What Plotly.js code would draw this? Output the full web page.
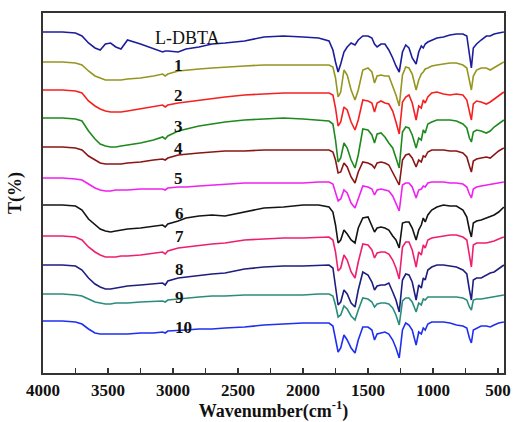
<!DOCTYPE html>
<html>
<head>
<meta charset="utf-8">
<script src="https://cdn.plot.ly/plotly-3.0.1.min.js"></script>
<style>html,body{margin:0;padding:0;background:#fff;}#chart{width:513px;height:422px;}</style>
</head>
<body>
<div id="chart"></div>
<script>
// Wavenumber grid (cm^-1)
const wavenumber = [4000,3850,3750,3700,3650,3600,3560,3520,3480,3440,
  3400,3350,3250,3150,3080,3060,3040,2960,2900,2800,
  2700,2600,2450,2300,2150,2000,1880,1800,1770,1750,
  1730,1710,1685,1660,1630,1600,1575,1540,1500,1470,
  1450,1430,1400,1370,1340,1310,1285,1260,1235,1210,
  1185,1160,1130,1110,1090,1075,1060,1040,1010,970,
  920,870,820,770,740,720,705,690,665,630,
  590,560,530,495,455];

// Transmittance (arbitrary stacked units)
const tLDBTA = [368,368,367,364,357,352,350,356,357,353,
  351,360,356,351,348,349,349,348,351,353,
  356,357,359,363,364,363,362,359,350,338,
  328,336,348,353,357,355,360,364,364,362,
  356,353,356,356,350,342,334,328,348,355,
  352,342,336,348,354,352,356,358,360,362,
  363,365,366,366,364,345,332,352,356,360,
  364,364,366,367,368];
const t1 = [338,338,337,335,329,324,322,320,320,320,
  320,321,322,324,326,324,326,329,330,331,
  332,333,334,335,335,335,335,335,333,322,
  303,308,330,325,310,300,310,330,332,328,
  317,324,325,324,324,314,305,294,325,333,
  332,326,310,320,326,328,331,332,334,335,
  336,337,337,335,332,320,310,324,330,332,
  332,330,332,335,338];
const t2 = [310,310,309,307,299,294,291,289,288,288,
  288,289,291,293,295,293,295,297,298,300,
  301,303,305,306,307,307,307,307,305,292,
  274,278,293,290,278,270,280,300,299,297,
  288,297,299,297,296,289,278,266,298,303,
  305,297,280,294,292,300,297,303,307,308,
  306,305,306,305,300,288,280,296,299,298,
  296,298,301,304,308];
const t3 = [282,282,281,279,269,261,256,254,253,253,
  254,255,257,260,263,261,264,269,271,274,
  276,278,280,281,282,281,280,279,276,260,
  238,242,257,252,240,232,245,271,270,265,
  257,266,267,263,257,252,242,232,268,273,
  272,265,252,262,260,270,267,276,278,280,
  280,280,279,276,272,262,258,268,270,269,
  267,269,273,276,280];
const t4 = [253,253,252,250,244,240,237,236,236,236,
  236,237,238,240,241,240,242,245,246,247,
  248,249,249,250,250,250,250,250,248,240,
  227,228,237,233,223,217,228,238,237,235,
  232,237,238,237,235,228,222,215,240,245,
  246,242,233,240,238,244,243,248,250,250,
  250,249,249,247,243,234,228,239,241,242,
  243,242,245,249,252];
const t5 = [222,222,221,220,216,212,210,209,209,210,
  210,210,211,211,211,210,212,213,213,214,
  215,216,217,217,217,217,218,218,216,208,
  199,201,210,207,197,192,202,214,213,211,
  205,210,211,210,209,204,197,189,215,217,
  217,213,202,210,211,214,213,217,218,218,
  218,217,217,216,213,206,202,211,213,214,
  215,215,216,217,218];
const t6 = [195,195,194,190,181,175,171,169,168,169,
  170,171,172,174,175,173,176,179,182,184,
  185,184,188,192,193,195,195,193,188,175,
  157,160,170,166,160,157,172,182,183,175,
  168,172,173,172,170,164,160,152,177,178,
  178,172,160,170,175,182,178,185,190,193,
  195,194,194,190,183,170,163,177,179,180,
  182,183,185,188,193];
const t7 = [164,164,163,160,153,148,145,143,143,143,
  144,144,145,147,148,146,149,152,153,155,
  156,157,160,161,162,162,163,163,160,148,
  129,132,145,140,128,122,138,156,155,150,
  142,147,148,148,146,140,132,121,153,158,
  158,150,133,148,145,155,152,160,162,163,
  164,165,165,163,160,145,133,155,157,157,
  157,158,159,161,163];
const t8 = [135,135,134,130,122,116,113,111,111,112,
  113,114,115,116,117,115,119,122,123,125,
  126,127,131,133,134,134,135,135,132,115,
  95,98,110,106,97,93,110,128,125,118,
  110,114,115,115,117,108,100,88,120,126,
  125,118,100,115,112,122,120,130,133,135,
  135,134,133,130,126,110,100,120,122,122,
  125,127,128,131,135];
const t9 = [106,106,105,104,101,98,97,96,96,97,
  97,97,98,99,99,98,100,101,102,103,
  104,104,105,105,105,105,106,106,104,95,
  83,85,94,91,84,80,90,102,101,98,
  93,96,97,97,96,92,85,75,99,102,
  102,98,88,97,95,101,100,103,103,103,
  103,103,103,102,100,93,90,100,101,101,
  102,102,103,104,105];
const t10 = [79,79,78,76,71,67,66,66,66,66,
  66,66,67,67,68,67,69,70,70,71,
  71,72,73,75,76,77,77,77,74,62,
  48,52,65,60,52,47,60,73,73,70,
  60,66,67,68,66,60,52,42,70,77,
  75,70,55,68,66,72,70,76,78,78,
  78,77,75,74,72,62,57,70,72,74,
  74,73,75,77,78];

const seriesNames = ['L-DBTA','1','2','3','4','5','6','7','8','9','10'];
const seriesData = [tLDBTA,t1,t2,t3,t4,t5,t6,t7,t8,t9,t10];

// styling (not data)
const colors = ['#1c1c9c','#959520','#f52020','#1e8a1e','#8a1515','#f020f0',
  '#141414','#ee1f6e','#1e1e80','#2a8c7c','#1f2ff0'];
const labelX = [2885,2955,2955,2955,2955,2955,2948,2948,2948,2948,2920];
const labelY = [362,335,305,274,252,222,187,164,131,103,73];

const serif = '"Liberation Serif","Times New Roman",serif';

const traces = seriesData.map((vals, i) => ({
  x: wavenumber, y: vals, type: 'scatter', mode: 'lines', name: seriesNames[i],
  line: {color: colors[i], width: 1.6}, hoverinfo: 'skip'
}));

const annotations = seriesNames.map((n, i) => ({
  x: labelX[i], y: labelY[i], xref: 'x', yref: 'y', text: n, showarrow: false,
  font: {family: serif, size: i === 0 ? 18 : 17, color: '#111',
         weight: i === 0 ? 'normal' : 'bold'},
  xanchor: 'center', yanchor: 'middle'
}));

const layout = {
  width: 513, height: 422,
  margin: {l: 43, r: 9, t: 13, b: 49},
  paper_bgcolor: '#fff', plot_bgcolor: '#fff',
  showlegend: false,
  font: {family: serif, color: '#111'},
  xaxis: {
    range: [4000, 454], autorange: false,
    tickmode: 'linear', tick0: 500, dtick: 500,
    ticks: 'inside', ticklen: 5, tickwidth: 1.2, tickcolor: '#333',
    minor: {dtick: 250, tick0: 250, ticks: 'inside', ticklen: 5, tickwidth: 1.2, tickcolor: '#333'},
    showline: true, linecolor: '#333', linewidth: 1.6, mirror: true,
    showgrid: false, zeroline: false,
    ticklabelstandoff: 1,
    tickfont: {family: serif, size: 17, color: '#111', weight: 'bold'},
    title: {text: 'Wavenumber(cm<sup>-1</sup>)', standoff: 10,
            font: {family: serif, size: 18, color: '#111', weight: 'bold'}}
  },
  yaxis: {
    range: [27, 387], autorange: false,
    showticklabels: false, ticks: '',
    showline: true, linecolor: '#333', linewidth: 1.6, mirror: true,
    showgrid: false, zeroline: false,
    title: {text: 'T(%)', standoff: 15,
            font: {family: serif, size: 18, color: '#111', weight: 'bold'}}
  },
  annotations: annotations
};

Plotly.newPlot('chart', traces, layout, {staticPlot: true, displayModeBar: false});
</script>
</body>
</html>
